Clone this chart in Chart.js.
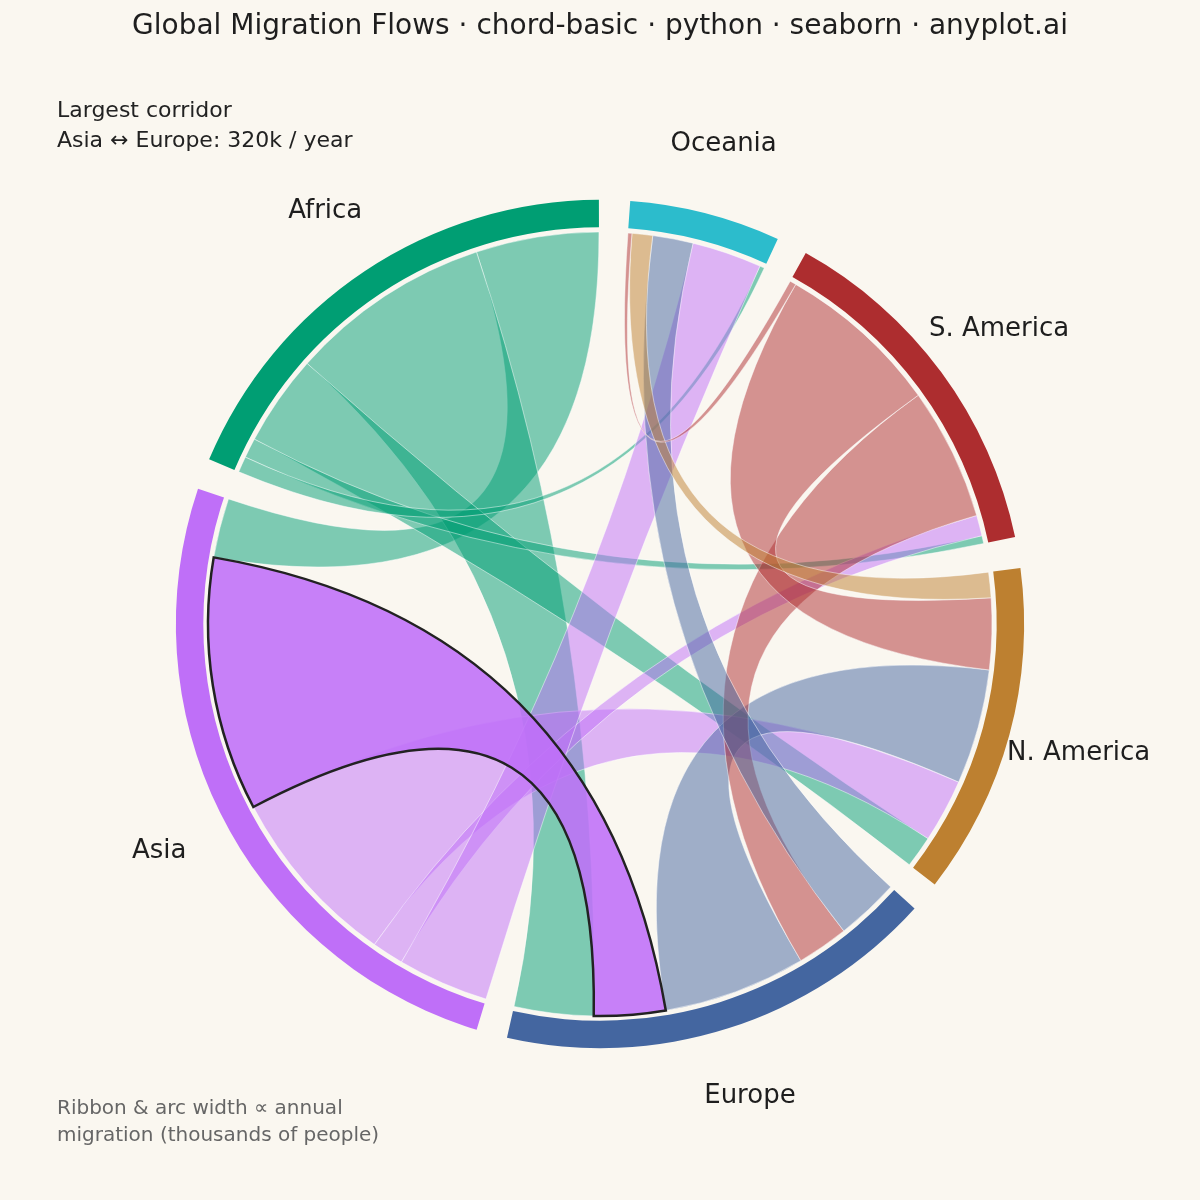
<!DOCTYPE html>
<html>
<head>
<meta charset="utf-8">
<script src="https://cdn.jsdelivr.net/npm/chart.js@4"></script>
<style>
  body { margin: 0; background: #faf7f0; }
  canvas { display: block; }
</style>
</head>
<body>
<canvas id="chord" width="1200" height="1200"></canvas>
<script>
// regions, counterclockwise from the top
const regions = ['Africa', 'Asia', 'Europe', 'N. America', 'S. America', 'Oceania'];
const regionColors = ['#009e73', '#bf6ff8', '#4466a0', '#bd8030', '#ad2d2f', '#2cbccc'];

// annual migration, thousands of people (row = from, column = to)
const fromAfrica  = [0, 155, 255, 115, 25, 20];
const fromAsia    = [75, 0, 320, 230, 40, 115];
const fromEurope  = [100, 90, 0, 180, 65, 80];
const fromNAmerica = [40, 80, 145, 0, 90, 32];
const fromSAmerica = [10, 26, 167, 207, 0, 8];
const fromOceania = [6, 88, 51, 26, 5, 0];
const flows = [fromAfrica, fromAsia, fromEurope, fromNAmerica, fromSAmerica, fromOceania];

const gapDeg = 4.24;
const startDeg = 90.15;

function hexA(hex, a) {
    const n = parseInt(hex.slice(1), 16);
    return 'rgba(' + (n >> 16) + ',' + ((n >> 8) & 255) + ',' + (n & 255) + ',' + a + ')';
}

// angle layout
let total = 0;
flows.forEach(r => r.forEach(v => total += v));
const degPer = (360 - gapDeg * regions.length) / total;
const groups = [];
const subs = [];
let cur = startDeg;
for (let i = 0; i < regions.length; i++) {
    const g0 = cur;
    subs.push([]);
    for (let j = 0; j < regions.length; j++) {
        const w = flows[i][j] * degPer;
        subs[i].push([cur, cur + w]);
        cur += w;
    }
    groups.push([g0, cur]);
    cur += gapDeg;
}

const rad = d => d * Math.PI / 180;

const chordPlugin = {
    id: 'chord',
    beforeDraw(chart) {
        const ctx = chart.ctx;
        ctx.save();
        ctx.fillStyle = '#faf7f0';
        ctx.fillRect(0, 0, chart.width, chart.height);
        ctx.restore();
    },
    afterDatasetsDraw(chart) {
        const ctx = chart.ctx;
        const xs = chart.scales.x, ys = chart.scales.y;
        const cx = xs.getPixelForValue(0), cy = ys.getPixelForValue(0);
        const unit = xs.getPixelForValue(1) - cx;
        const r = unit * 1.0;
        const pt = (deg, rr) => [cx + rr * Math.cos(rad(deg)), cy - rr * Math.sin(rad(deg))];

        function ribbonPath(a, b) {
            ctx.beginPath();
            const p0 = pt(a[0], r);
            ctx.moveTo(p0[0], p0[1]);
            ctx.arc(cx, cy, r, -rad(a[0]), -rad(a[1]), true);
            const q = pt(b[0], r);
            ctx.quadraticCurveTo(cx, cy, q[0], q[1]);
            ctx.arc(cx, cy, r, -rad(b[0]), -rad(b[1]), true);
            ctx.quadraticCurveTo(cx, cy, p0[0], p0[1]);
            ctx.closePath();
        }

        // ribbons
        let top = null;
        for (let i = 0; i < regions.length; i++) {
            for (let j = i + 1; j < regions.length; j++) {
                const src = flows[i][j] >= flows[j][i] ? i : j;
                const dst = src === i ? j : i;
                if (src === 1 && dst === 2) { top = [src, dst]; continue; }
                ribbonPath(subs[src][dst], subs[dst][src]);
                ctx.fillStyle = hexA(regionColors[src], 0.5);
                ctx.fill();
                ctx.strokeStyle = 'rgba(255,255,255,0.6)';
                ctx.lineWidth = 0.8;
                ctx.stroke();
            }
        }
        if (top) {
            ribbonPath(subs[top[0]][top[1]], subs[top[1]][top[0]]);
            ctx.fillStyle = hexA(regionColors[top[0]], 0.88);
            ctx.fill();
            ctx.strokeStyle = '#222';
            ctx.lineWidth = 2.5;
            ctx.stroke();
        }

        // outer arcs
        const r0 = unit * 1.012, r1 = unit * 1.082;
        groups.forEach((g, i) => {
            ctx.beginPath();
            ctx.arc(cx, cy, r1, -rad(g[0]), -rad(g[1]), true);
            ctx.arc(cx, cy, r0, -rad(g[1]), -rad(g[0]), false);
            ctx.closePath();
            ctx.fillStyle = regionColors[i];
            ctx.fill();
        });

        // labels
        ctx.fillStyle = '#1e1e1e';
        ctx.font = '26px "DejaVu Sans"';
        ctx.textAlign = 'center';
        ctx.textBaseline = 'middle';
        groups.forEach((g, i) => {
            const p = pt((g[0] + g[1]) / 2, unit * 1.265);
            ctx.fillText(regions[i], p[0], p[1]);
        });

        ctx.font = '28px "DejaVu Sans"';
        ctx.fillText('Global Migration Flows · chord-basic · python · seaborn · anyplot.ai', 600, 27);

        ctx.textAlign = 'left';
        ctx.font = '22px "DejaVu Sans"';
        ctx.fillStyle = '#222';
        ctx.fillText('Largest corridor', 57, 111);
        ctx.fillText('Asia ↔ Europe: 320k / year', 57, 141);
        ctx.font = '20px "DejaVu Sans"';
        ctx.fillStyle = '#666';
        ctx.fillText('Ribbon & arc width ∝ annual', 57, 1109);
        ctx.fillText('migration (thousands of people)', 57, 1136);
    }
};

const pxUnit = 392;
new Chart(document.getElementById('chord'), {
    type: 'scatter',
    data: { datasets: [{ data: [], pointRadius: 0 }] },
    options: {
        responsive: false,
        animation: false,
        devicePixelRatio: 1,
        layout: { padding: 0 },
        scales: {
            x: { display: false, min: -600 / pxUnit, max: 600 / pxUnit },
            y: { display: false, min: -576 / pxUnit, max: 624 / pxUnit }
        },
        plugins: { legend: { display: false }, tooltip: { enabled: false } }
    },
    plugins: [chordPlugin]
});
</script>
</body>
</html>
